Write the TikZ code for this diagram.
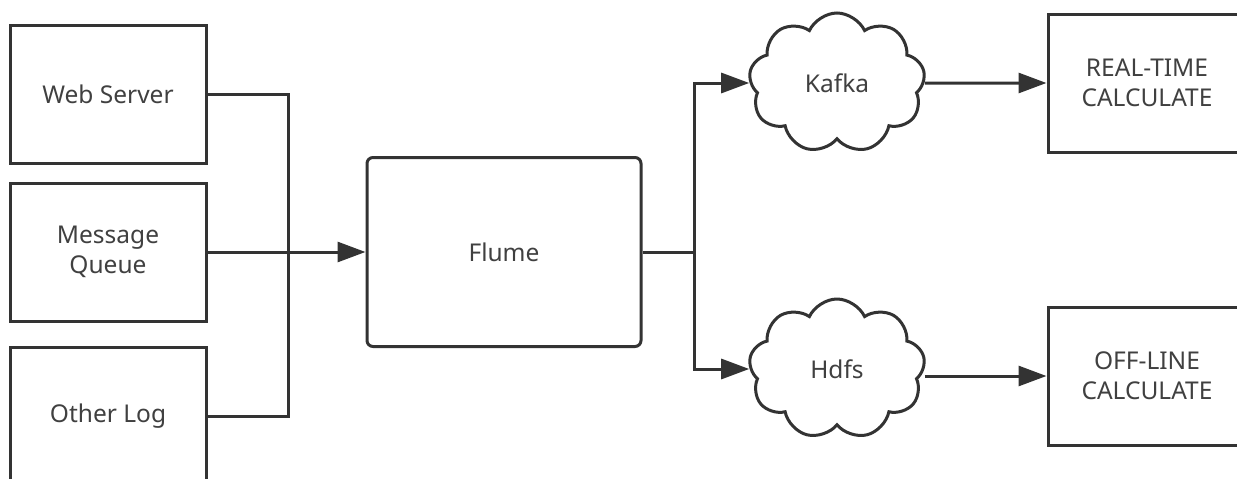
\documentclass[tikz,border=0pt]{standalone}
\usepackage{fontspec}
\setmainfont{Noto Sans}
\usepackage{tikz}
\usetikzlibrary{arrows.meta, positioning, shapes.symbols}
\definecolor{ink}{HTML}{333333}
\definecolor{label}{HTML}{404040}
\tikzstyle{source}=[rectangle, draw=ink, line width=3pt, minimum width=196pt, minimum height=138pt, align=center, text=label]
\tikzstyle{agent}=[source, rounded corners=6pt, minimum width=274pt, minimum height=189pt]
\tikzstyle{store}=[cloud, cloud puffs=9, cloud puff arc=130, aspect=1.27, draw=ink, line width=3pt, minimum width=176pt, minimum height=140pt, text=label]
\tikzstyle{sink}=[source, minimum width=198pt]
\tikzstyle{flow}=[draw=ink, line width=3pt]

\begin{document}
\begin{tikzpicture}[x=1pt, y=-1pt, on grid, >={Triangle[length=28pt,width=20pt]}, font=\fontsize{24.5}{30}\selectfont]
      \path[use as bounding box, clip] (0,0) rectangle (1237,479);

      \node[agent] (flume) at (504,252) {Flume};
      \node[source] (queue) [left=396pt of flume] {Message\\Queue};
      \node[source] (web) [above=158pt of queue] {Web Server};
      \node[source] (other) [below=164pt of queue] {Other Log};

      \node[store] (kafka) [above right=169pt and 333pt of flume] {Kafka};
      \node[store] (hdfs) [below right=117pt and 333pt of flume] {Hdfs};
      \node[sink] (realtime) [right=310pt of kafka] {REAL-TIME\\CALCULATE};
      \node[sink] (offline) [right=310pt of hdfs, yshift=-7pt] {OFF-LINE\\CALCULATE};

      \coordinate (join) at (288,252);
      \coordinate (split) at (694,252);

      \draw[flow] (web.east) -| (join) |- (other.east);
      \draw[flow, ->] (queue.east) -- (flume.west);
      \draw[flow] (flume.east) -- (split);
      \draw[flow, ->] (split) |- (kafka.west);
      \draw[flow, ->] (split) |- (hdfs.west);
      \draw[flow, ->] (kafka.east) -- (realtime.west);
      \draw[flow, ->] (hdfs.east |- offline.west) -- (offline.west);
\end{tikzpicture}
\end{document}
